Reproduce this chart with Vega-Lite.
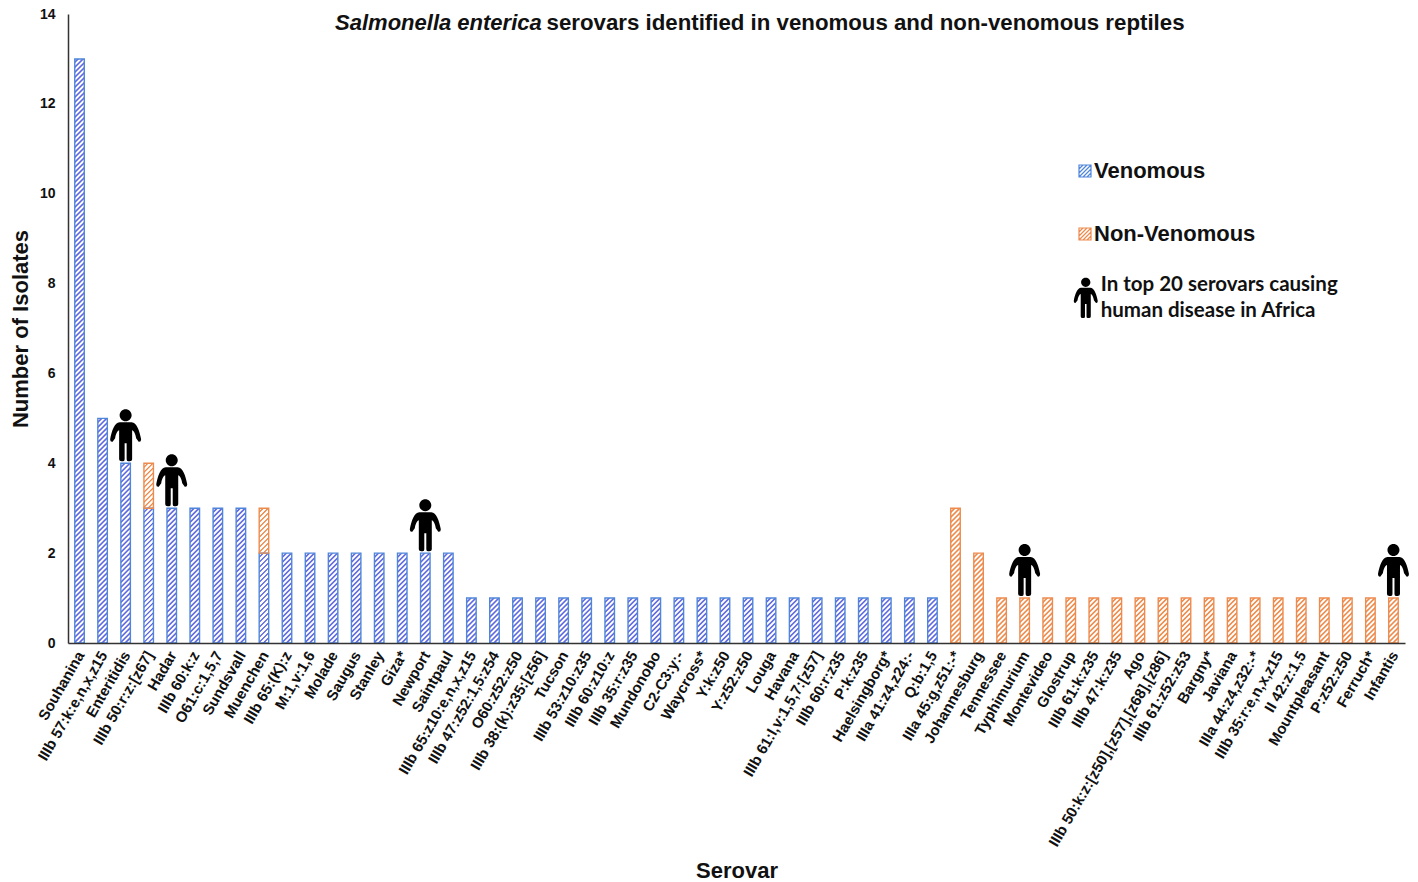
{"$schema":"https://vega.github.io/schema/vega-lite/v6.json","width":1337,"height":629,"autosize":"none","padding":{"left":68,"top":14,"right":13,"bottom":239},"background":"white","config":{"view":{"stroke":null},"font":"Liberation Sans"},
"datasets":{"isolates":[
{"serovar":"Souhanina","group":"Venomous","count":13},{"serovar":"IIIb 57:k:e,n,x,z15","group":"Venomous","count":5},{"serovar":"Enteritidis","group":"Venomous","count":4},{"serovar":"IIIb 50:r:z:[z67]","group":"Venomous","count":3},{"serovar":"IIIb 50:r:z:[z67]","group":"Non-Venomous","count":1},{"serovar":"Hadar","group":"Venomous","count":3},{"serovar":"IIIb 60:k:z","group":"Venomous","count":3},{"serovar":"O61:c:1,5,7","group":"Venomous","count":3},{"serovar":"Sundsvall","group":"Venomous","count":3},{"serovar":"Muenchen","group":"Venomous","count":2},{"serovar":"Muenchen","group":"Non-Venomous","count":1},{"serovar":"IIIb 65:(K):z","group":"Venomous","count":2},{"serovar":"M:1,v:1,6","group":"Venomous","count":2},{"serovar":"Molade","group":"Venomous","count":2},{"serovar":"Saugus","group":"Venomous","count":2},{"serovar":"Stanley","group":"Venomous","count":2},{"serovar":"Giza*","group":"Venomous","count":2},{"serovar":"Newport","group":"Venomous","count":2},{"serovar":"Saintpaul","group":"Venomous","count":2},{"serovar":"IIIb 65:z10:e,n,x,z15","group":"Venomous","count":1},{"serovar":"IIIb 47:z52:1,5:z54","group":"Venomous","count":1},{"serovar":"O60:z52:z50","group":"Venomous","count":1},{"serovar":"IIIb 38:(k):z35:[z56]","group":"Venomous","count":1},{"serovar":"Tucson","group":"Venomous","count":1},{"serovar":"IIIb 53:z10:z35","group":"Venomous","count":1},{"serovar":"IIIb 60:z10:z","group":"Venomous","count":1},{"serovar":"IIIb 35:r:z35","group":"Venomous","count":1},{"serovar":"Mundonobo","group":"Venomous","count":1},{"serovar":"C2-C3:y:-","group":"Venomous","count":1},{"serovar":"Waycross*","group":"Venomous","count":1},{"serovar":"Y:k:z50","group":"Venomous","count":1},{"serovar":"Y:z52:z50","group":"Venomous","count":1},{"serovar":"Louga","group":"Venomous","count":1},{"serovar":"Havana","group":"Venomous","count":1},{"serovar":"IIIb 61:l,v:1,5,7:[z57]","group":"Venomous","count":1},{"serovar":"IIIb 60:r:z35","group":"Venomous","count":1},{"serovar":"P:k:z35","group":"Venomous","count":1},{"serovar":"Haelsingborg*","group":"Venomous","count":1},{"serovar":"IIIa 41:z4,z24:-","group":"Venomous","count":1},{"serovar":"Q:b:1,5","group":"Venomous","count":1},{"serovar":"IIIa 45:g,z51:-*","group":"Non-Venomous","count":3},{"serovar":"Johannesburg","group":"Non-Venomous","count":2},{"serovar":"Tennessee","group":"Non-Venomous","count":1},{"serovar":"Typhimurium","group":"Non-Venomous","count":1},{"serovar":"Montevideo","group":"Non-Venomous","count":1},{"serovar":"Glostrup","group":"Non-Venomous","count":1},{"serovar":"IIIb 61:k:z35","group":"Non-Venomous","count":1},{"serovar":"IIIb 47:k:z35","group":"Non-Venomous","count":1},{"serovar":"Ago","group":"Non-Venomous","count":1},{"serovar":"IIIb 50:k:z:[z50],[z57],[z68],[z86]","group":"Non-Venomous","count":1},{"serovar":"IIIb 61:z52:z53","group":"Non-Venomous","count":1},{"serovar":"Bargny*","group":"Non-Venomous","count":1},{"serovar":"Javiana","group":"Non-Venomous","count":1},{"serovar":"IIIa 44:z4,z32:-*","group":"Non-Venomous","count":1},{"serovar":"IIIb 35:r:e,n,x,z15","group":"Non-Venomous","count":1},{"serovar":"II 42:z:1,5","group":"Non-Venomous","count":1},{"serovar":"Mountpleasant","group":"Non-Venomous","count":1},{"serovar":"P:z52:z50","group":"Non-Venomous","count":1},{"serovar":"Ferruch*","group":"Non-Venomous","count":1},{"serovar":"Infantis","group":"Non-Venomous","count":1}
],"top20":[{"serovar":"Enteritidis","total":4},{"serovar":"Hadar","total":3},{"serovar":"Newport","total":2},{"serovar":"Typhimurium","total":1},{"serovar":"Infantis","total":1}]},
"encoding":{"x":{"field":"serovar","type":"nominal","sort":null,"title":"Serovar","scale":{"type":"band"},"axis":{"zindex":1,"ticks":false,"domainColor":"#333333","domainWidth":1.5,"labelAngle":-60,"labelAlign":"right","labelBaseline":"middle","labelFont":"Liberation Sans","labelFontWeight":"bold","labelFontSize":15,"labelColor":"#111111","labelPadding":9,"labelOffset":1,"labelOverlap":false,"labelLimit":400,"labelBound":false,"titleFont":"Liberation Sans","titleFontSize":22,"titleFontWeight":"bold","titleColor":"#111111","titleY":217}}},
"layer":[
{"data":{"name":"isolates"},"transform":[{"stack":"count","groupby":["serovar"],"sort":[{"field":"group","order":"descending"}],"as":["y0","y1"]}],"mark":{"type":"bar","width":9.5,"strokeWidth":0},"encoding":{"y":{"field":"y1","type":"quantitative","title":"Number of Isolates","scale":{"domain":[0,14],"nice":false},"axis":{"zindex":1,"values":[0,2,4,6,8,10,12,14],"ticks":false,"grid":false,"domainColor":"#333333","domainWidth":1.5,"labelFont":"Liberation Sans","labelFontWeight":"bold","labelFontSize":14,"labelColor":"#111111","labelPadding":13,"titleFont":"Liberation Sans","titleFontSize":22,"titleFontWeight":"bold","titleColor":"#111111","titleX":-36}},"y2":{"field":"y0"},"color":{"field":"group","type":"nominal","legend":null,"scale":{"domain":["Non-Venomous","Venomous"],"range":["#ee8a4a","#5f68e0"]}}}},
{"data":{"name":"isolates"},"mark":{"type":"point","filled":false,"clip":true,"opacity":1,"size":4,"stroke":"white","strokeWidth":1.8,"shape":"M-7 14l14-14m-14 9l14-14m-14 9l14-14m-14 9l14-14m-14 9l14-14m-14 9l14-14m-14 9l14-14m-14 9l14-14m-14 9l14-14m-14 9l14-14m-14 9l14-14m-14 9l14-14m-14 9l14-14m-14 9l14-14m-14 9l14-14m-14 9l14-14m-14 9l14-14m-14 9l14-14m-14 9l14-14m-14 9l14-14m-14 9l14-14m-14 9l14-14m-14 9l14-14m-14 9l14-14m-14 9l14-14m-14 9l14-14m-14 9l14-14m-14 9l14-14m-14 9l14-14m-14 9l14-14m-14 9l14-14m-14 9l14-14m-14 9l14-14m-14 9l14-14m-14 9l14-14m-14 9l14-14m-14 9l14-14m-14 9l14-14m-14 9l14-14m-14 9l14-14m-14 9l14-14m-14 9l14-14m-14 9l14-14m-14 9l14-14m-14 9l14-14m-14 9l14-14m-14 9l14-14m-14 9l14-14m-14 9l14-14m-14 9l14-14m-14 9l14-14m-14 9l14-14m-14 9l14-14m-14 9l14-14m-14 9l14-14m-14 9l14-14m-14 9l14-14m-14 9l14-14m-14 9l14-14m-14 9l14-14m-14 9l14-14m-14 9l14-14m-14 9l14-14m-14 9l14-14m-14 9l14-14m-14 9l14-14m-14 9l14-14m-14 9l14-14m-14 9l14-14m-14 9l14-14m-14 9l14-14m-14 9l14-14m-14 9l14-14m-14 9l14-14m-14 9l14-14m-14 9l14-14m-14 9l14-14m-14 9l14-14m-14 9l14-14m-14 9l14-14m-14 9l14-14m-14 9l14-14m-14 9l14-14m-14 9l14-14m-14 9l14-14m-14 9l14-14m-14 9l14-14m-14 9l14-14m-14 9l14-14m-14 9l14-14m-14 9l14-14m-14 9l14-14m-14 9l14-14m-14 9l14-14m-14 9l14-14m-14 9l14-14m-14 9l14-14m-14 9l14-14m-14 9l14-14m-14 9l14-14m-14 9l14-14m-14 9l14-14m-14 9l14-14m-14 9l14-14m-14 9l14-14m-14 9l14-14m-14 9l14-14m-14 9l14-14m-14 9l14-14m-14 9l14-14m-14 9l14-14m-14 9l14-14m-14 9l14-14m-14 9l14-14m-14 9l14-14m-14 9l14-14m-14 9l14-14m-14 9l14-14m-14 9l14-14m-14 9l14-14m-14 9l14-14m-14 9l14-14m-14 9l14-14"},"encoding":{"y":{"datum":0,"type":"quantitative","title":"Number of Isolates"}}},
{"data":{"name":"isolates"},"transform":[{"stack":"count","groupby":["serovar"],"sort":[{"field":"group","order":"descending"}],"as":["y0","y1"]}],"mark":{"type":"bar","width":9.5,"fill":"transparent","strokeWidth":1.4},"encoding":{"y":{"field":"y1","type":"quantitative","title":"Number of Isolates"},"y2":{"field":"y0"},"stroke":{"field":"group","type":"nominal","scale":{"domain":["Venomous","Non-Venomous"],"range":["#4f86d9","#ed8b4e"]},"legend":{"title":null,"orient":"none","legendX":1006,"legendY":146,"padding":0,"symbolType":"M-1-1H1V1H-1ZM-1-.33L-.33-1M-1 .33L.33-1M-1 1L1-1M-.33 1L1-.33M.33 1L1 .33","symbolSize":144,"symbolStrokeWidth":1.2,"symbolFillColor":"transparent","labelFont":"Liberation Sans","labelFontWeight":"bold","labelFontSize":22,"labelColor":"#111111","labelLimit":300,"labelOffset":-2,"rowPadding":41}}}},
{"data":{"name":"top20"},"mark":{"type":"point","filled":true,"opacity":1,"size":4,"fill":"black","strokeWidth":0,"shape":"M-6-48a6 6 0 1 0 12 0a6 6 0 1 0-12 0ZM-6-41L6-41C11-41 14-32 15.5-24Q15.5-21 13-21.5L10.5-25C10-29 8-33 6.5-33L6.5-4Q6.5-2 4-2L2.5-2Q1-2 1-4L1-20L-1-20L-1-4Q-1-2-2.5-2L-4-2Q-6.5-2-6.5-4L-6.5-33C-8-33-10-29-10.5-25L-13-21.5Q-15.5-21-15.5-24C-14-32-11-41-6-41Z"},"encoding":{"y":{"field":"total","type":"quantitative","title":"Number of Isolates"}}},
{"data":{"values":[{"serovar":"Glostrup","value":7.2}]},"mark":{"type":"point","filled":true,"opacity":1,"size":2.4,"xOffset":15,"fill":"black","strokeWidth":0,"shape":"M-6-48a6 6 0 1 0 12 0a6 6 0 1 0-12 0ZM-6-41L6-41C11-41 14-32 15.5-24Q15.5-21 13-21.5L10.5-25C10-29 8-33 6.5-33L6.5-4Q6.5-2 4-2L2.5-2Q1-2 1-4L1-20L-1-20L-1-4Q-1-2-2.5-2L-4-2Q-6.5-2-6.5-4L-6.5-33C-8-33-10-29-10.5-25L-13-21.5Q-15.5-21-15.5-24C-14-32-11-41-6-41Z"},"encoding":{"y":{"field":"value","type":"quantitative","title":"Number of Isolates"}}},
{"data":{"values":[{"serovar":"Glostrup","value":7.96,"label":"In top 20 serovars causing"},{"serovar":"Glostrup","value":7.38,"label":"human disease in Africa"}]},"mark":{"type":"text","align":"left","baseline":"middle","dx":30,"font":"Lato","fontWeight":"bold","fontSize":20.5,"fill":"#111111"},"encoding":{"y":{"field":"value","type":"quantitative","title":"Number of Isolates"},"text":{"field":"label"}}},
{"data":{"values":[{"serovar":"Molade","value":13.8,"label":"Salmonella enterica"}]},"mark":{"type":"text","align":"left","baseline":"middle","dx":2,"font":"Liberation Sans","fontWeight":"bold","fontStyle":"italic","fontSize":22,"fill":"#111111"},"encoding":{"y":{"field":"value","type":"quantitative","title":"Number of Isolates"},"text":{"field":"label"}}},
{"data":{"values":[{"serovar":"IIIb 38:(k):z35:[z56]","value":13.8,"label":"serovars identified in venomous and non-venomous reptiles"}]},"mark":{"type":"text","align":"left","baseline":"middle","dx":6,"font":"Liberation Sans","fontWeight":"bold","fontSize":22.25,"fill":"#111111"},"encoding":{"y":{"field":"value","type":"quantitative","title":"Number of Isolates"},"text":{"field":"label"}}}
]}
